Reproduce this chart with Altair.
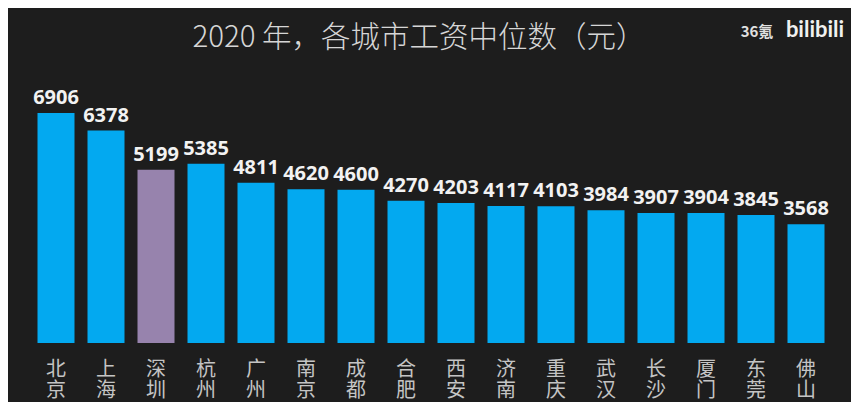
import altair as alt
import pandas as pd

cities = ["北京", "上海", "深圳", "杭州", "广州", "南京", "成都", "合肥",
          "西安", "济南", "重庆", "武汉", "长沙", "厦门", "东莞", "佛山"]
wages = [6906, 6378, 5199, 5385, 4811, 4620, 4600, 4270,
         4203, 4117, 4103, 3984, 3907, 3904, 3845, 3568]
highlight = ["否", "否", "是", "否", "否", "否", "否", "否",
             "否", "否", "否", "否", "否", "否", "否", "否"]

title_text = "2020 年，各城市工资中位数（元）"

df = pd.DataFrame({"city": cities, "wage": wages, "hl": highlight})

BG = "#1d1d1d"
BLUE = "#03a9f0"
PURPLE = "#9783ad"

x_enc = alt.X("city:N", sort=cities, title=None,
              scale=alt.Scale(paddingInner=0.26),
              axis=alt.Axis(labelExpr="split(datum.label, '')",
                            labelAngle=0, labelColor="#c4c4c4",
                            labelFont="Noto Sans CJK SC", labelFontSize=20,
                            labelLineHeight=21, labelBaseline="top",
                            labelPadding=16, ticks=False, domain=False,
                            grid=False))
y_enc = alt.Y("wage:Q", title=None, scale=alt.Scale(domain=[0, 6906], nice=False, zero=True),
              axis=None)

bars = alt.Chart(df).mark_bar().encode(
    x=x_enc,
    y=y_enc,
    color=alt.Color("hl:N", scale=alt.Scale(domain=["否", "是"], range=[BLUE, PURPLE]),
                    legend=None),
)

labels = alt.Chart(df).mark_text(
    baseline="alphabetic", dy=-9, fontSize=20, fontWeight="bold",
    font="Open Sans", color="#f2f2f2"
).encode(x=alt.X("city:N", sort=cities), y="wage:Q", text="wage:Q")

title = alt.Chart(pd.DataFrame({"t": [title_text]})).mark_text(
    align="center", baseline="alphabetic", fontSize=29.5, fontWeight=300,
    font="Noto Sans CJK SC", color="#d6d6d6"
).encode(x=alt.value(388), y=alt.value(-66), text="t:N")

logo1 = alt.Chart(pd.DataFrame({"t": ["36氪"]})).mark_text(
    align="center", baseline="alphabetic", fontSize=15, fontWeight="bold",
    font="Noto Sans CJK SC", color="#e0e0e0"
).encode(x=alt.value(726), y=alt.value(-76), text="t:N")

logo2 = alt.Chart(pd.DataFrame({"t": ["bilibili"]})).mark_text(
    align="center", baseline="alphabetic", fontSize=22, fontWeight="bold",
    font="Lato", color="#f0f0f0"
).encode(x=alt.value(784), y=alt.value(-76), text="t:N")

chart = alt.layer(bars, labels, title, logo1, logo2).properties(
    width=800, height=230,
    background=BG,
    padding={"left": 23, "top": 105, "right": 20, "bottom": 59},
    autosize=alt.AutoSizeParams(type="none"),
).configure_view(stroke=None)

chart.save("out.html", embed_options={"renderer": "svg", "actions": False})
